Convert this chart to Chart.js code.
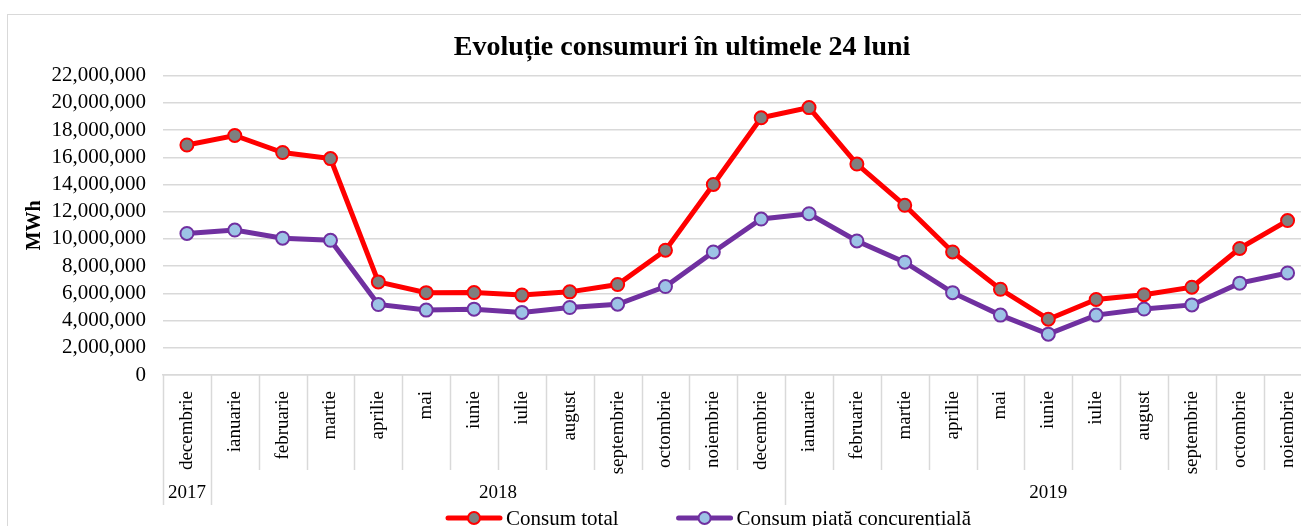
<!DOCTYPE html>
<html>
<head>
<meta charset="utf-8">
<script src="https://cdn.jsdelivr.net/npm/chart.js@4/dist/chart.umd.min.js"></script>
<style>
  html, body { margin: 0; padding: 0; background: #fff; overflow: hidden; }
  #frame { position: absolute; left: 7px; top: 14px; width: 1400px; height: 600px; border: 1px solid #d9d9d9; }
  #wrap { position: absolute; left: 0; top: 0; width: 1320px; height: 526px; }
</style>
</head>
<body>
<div id="frame"></div>
<div id="wrap"><canvas id="chart"></canvas></div>
<script>
  var months = ['decembrie', 'ianuarie', 'februarie', 'martie', 'aprilie', 'mai', 'iunie', 'iulie',
    'august', 'septembrie', 'octombrie', 'noiembrie', 'decembrie', 'ianuarie', 'februarie', 'martie',
    'aprilie', 'mai', 'iunie', 'iulie', 'august', 'septembrie', 'octombrie', 'noiembrie'];
  var yearLabels = ['2017', '2018', '2019'];
  var yearSpans = [1, 12, 11];

  // MWh
  var consumTotal = [16900000, 17600000, 16350000, 15900000, 6840000, 6050000, 6060000, 5870000,
    6110000, 6650000, 9170000, 14000000, 18900000, 19650000, 15500000, 12470000,
    9040000, 6300000, 4100000, 5550000, 5900000, 6450000, 9300000, 11350000];
  var consumConcurential = [10400000, 10650000, 10050000, 9900000, 5180000, 4770000, 4840000, 4600000,
    4960000, 5200000, 6500000, 9040000, 11460000, 11850000, 9850000, 8290000,
    6050000, 4400000, 3000000, 4400000, 4850000, 5150000, 6750000, 7500000];

  var yTicks = { min: 0, max: 22000000, step: 2000000 };

  var serif = "'Liberation Serif', 'Times New Roman', serif";
  var gridColor = '#d9d9d9';

  // month separators and the year row under the category axis
  var axisDecor = {
    id: 'axisDecor',
    afterDraw: function (chart) {
      var ctx = chart.ctx;
      var x = chart.scales.x;
      var area = chart.chartArea;
      var monthBottom = area.bottom + 95;
      var yearBottom = area.bottom + 130;
      var yearEdges = [0];
      yearSpans.forEach(function (n, i) { yearEdges.push(yearEdges[i] + n); });

      ctx.save();
      ctx.strokeStyle = gridColor;
      ctx.lineWidth = 1.5;
      for (var i = 0; i <= months.length; i++) {
        var bx = Math.round(x.getPixelForValue(i - 0.5)) + 0.5;
        ctx.beginPath();
        ctx.moveTo(bx, area.bottom);
        ctx.lineTo(bx, yearEdges.indexOf(i) !== -1 ? yearBottom : monthBottom);
        ctx.stroke();
      }

      ctx.fillStyle = '#000';
      ctx.font = '19px ' + serif;
      ctx.textAlign = 'center';
      ctx.textBaseline = 'middle';
      yearLabels.forEach(function (label, i) {
        var mid = yearEdges[i] + (yearSpans[i] - 1) / 2;
        ctx.fillText(label, x.getPixelForValue(mid), area.bottom + 118);
      });
      ctx.restore();
    }
  };

  // legend drawn as Excel does: line with a marker in the middle
  var lineLegend = {
    id: 'lineLegend',
    afterDraw: function (chart) {
      var ctx = chart.ctx;
      var y = 518;
      var cx = 446;
      ctx.save();
      ctx.font = '21px ' + serif;
      ctx.textBaseline = 'middle';
      chart.data.datasets.forEach(function (ds) {
        ctx.strokeStyle = ds.borderColor;
        ctx.lineWidth = 5;
        ctx.lineCap = 'round';
        ctx.beginPath();
        ctx.moveTo(cx + 2, y);
        ctx.lineTo(cx + 54, y);
        ctx.stroke();
        ctx.beginPath();
        ctx.arc(cx + 28, y, 6, 0, Math.PI * 2);
        ctx.fillStyle = ds.pointBackgroundColor;
        ctx.fill();
        ctx.lineWidth = 2;
        ctx.strokeStyle = ds.pointBorderColor;
        ctx.stroke();
        ctx.fillStyle = '#000';
        ctx.fillText(ds.label, cx + 60, y + 1);
        cx += 60 + ctx.measureText(ds.label).width + 58;
      });
      ctx.restore();
    }
  };

  new Chart(document.getElementById('chart').getContext('2d'), {
    type: 'line',
    data: {
      labels: months,
      datasets: [
        {
          label: 'Consum total',
          data: consumTotal,
          borderColor: '#ff0000',
          borderWidth: 5,
          pointRadius: 6.5,
          pointHoverRadius: 6.5,
          pointBorderWidth: 2,
          pointBackgroundColor: '#7f7f7f',
          pointBorderColor: '#ff0000',
          tension: 0
        },
        {
          label: 'Consum piață concurențială',
          data: consumConcurential,
          borderColor: '#7030a0',
          borderWidth: 5,
          pointRadius: 6.5,
          pointHoverRadius: 6.5,
          pointBorderWidth: 2,
          pointBackgroundColor: '#9dc3e6',
          pointBorderColor: '#7030a0',
          tension: 0
        }
      ]
    },
    options: {
      responsive: true,
      maintainAspectRatio: false,
      animation: false,
      layout: { padding: { left: 50, right: 6, top: 0, bottom: 51 } },
      plugins: {
        legend: { display: false },
        tooltip: { enabled: false },
        title: {
          display: true,
          text: 'Evoluție consumuri în ultimele 24 luni',
          color: '#000',
          font: { family: serif, size: 28, weight: 'bold' },
          padding: { top: 31, bottom: 11 }
        }
      },
      scales: {
        x: {
          offset: true,
          grid: { display: false },
          border: { display: true, color: gridColor, width: 1.5 },
          ticks: {
            autoSkip: false,
            minRotation: 90,
            maxRotation: 90,
            padding: 8,
            color: '#000',
            font: { family: serif, size: 19 }
          },
          afterFit: function (scale) { scale.height = 100; }
        },
        y: {
          min: yTicks.min,
          max: yTicks.max,
          grid: { color: gridColor, lineWidth: 1.5, drawTicks: false },
          border: { display: false },
          ticks: {
            autoSkip: false,
            stepSize: yTicks.step,
            padding: 17,
            color: '#000',
            font: { family: serif, size: 21 },
            callback: function (v) { return v.toLocaleString('en-US'); }
          },
          title: {
            display: true,
            text: 'MWh',
            color: '#000',
            font: { family: serif, size: 20, weight: 'bold' },
            padding: { top: -27, bottom: 0 }
          },
          afterFit: function (scale) { scale.width = 113; }
        }
      }
    },
    plugins: [axisDecor, lineLegend]
  });
</script>
</body>
</html>
